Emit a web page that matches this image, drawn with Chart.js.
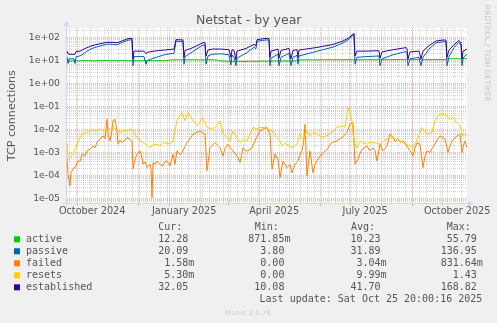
<!DOCTYPE html>
<html><head><meta charset="utf-8">
<script src="https://cdn.jsdelivr.net/npm/chart.js@4/dist/chart.umd.min.js"></script>
<style>html,body{margin:0;padding:0;background:#F0F0F0;}canvas{display:block;}</style>
</head><body>
<canvas id="c" width="497" height="323"></canvas>
<script>
// ---- data (x = days since Sep 20 2024 20:00, y = connections) ----
const seriesNames = ['active', 'passive', 'failed', 'resets', 'established'];
const seriesColors = ['#00CC00', '#0066B3', '#FF8000', '#FFCC00', '#330099'];
const curValues = ['12.28', '20.09', '1.58m', '5.30m', '32.05'];
const minValues = ['871.85m', '3.80', '0.00', '0.00', '10.08'];
const avgValues = ['10.23', '31.89', '3.04m', '9.99m', '41.70'];
const maxValues = ['55.79', '136.95', '831.64m', '1.43', '168.82'];
const monthLabels = ['October 2024', 'January 2025', 'April 2025', 'July 2025', 'October 2025'];
const monthLabelDates = ['2024-10-16', '2025-01-16', '2025-04-16', '2025-07-16', '2025-10-16'];
const yTickValues = [1e-5, 1e-4, 1e-3, 1e-2, 1e-1, 1e0, 1e1, 1e2];
const yTickLabels = ['1e-05', '1e-04', '1e-03', '1e-02', '1e-01', '1e+00', '1e+01', '1e+02'];

const active = [[0,9.8],[4,9.6],[8,9.9],[12,9.7],[16,10.1],[20,9.9],[24,10.0],[28,9.8],[32,10.0],[36,9.9],[40,10.2],[44,9.9],[48,10.0],[52,9.8],[56,10.1],[60,9.9],[64,10.0],[68,9.8],[72,9.9],[76,10.0],[80,9.9],[84,10.0],[88,9.9],[92,10.0],[96,9.9],[100,10.0],[103,10.8],[110,10.9],[118,10.8],[126,10.9],[134,10.8],[142,10.9],[149,10.7],[152,9.8],[158,9.6],[164,9.3],[170,9.5],[176,9.2],[182,9.5],[188,9.4],[194,9.6],[200,9.5],[206,9.7],[212,9.6],[218,9.7],[224,9.6],[230,9.8],[233,10.8],[240,10.9],[250,10.8],[260,11.0],[270,10.9],[280,11.0],[290,10.9],[300,11.0],[310,10.9],[320,11.0],[330,11.1],[340,11.0],[350,11.1],[360,11.0],[370,11.1],[378,11.0],[380,12.1],[388,12.2],[395,12.1],[400,12.3]];

const passive = [[0,15],[1,7.5],[2,12],[7,12],[8,7.5],[9,15],[13,16],[15,18],[20,26],[25,34],[30,40],[35,46],[40,52],[45,52],[50,49],[55,61],[60,76],[64,82],[65,80],[66,6],[67,15],[77,15],[79,7],[80,10],[87,13],[97,18],[107,21],[109,70],[116,68],[117,7],[118,15],[124,22],[130,33],[137,50],[138,48],[139,7],[141,16],[145,19],[154,20],[162,18],[164,6.5],[165,17],[167,15],[169,6],[170,13],[179,21],[187,38],[189,33],[190,70],[199,80],[202,78],[203,6],[204,13],[211,19],[212,6],[214,14],[222,21],[224,6],[226,14],[230,17],[231,7],[232,16],[249,25],[266,39],[272,50],[276,59],[281,80],[284,105],[286,125],[287,137],[288,7],[290,14],[299,15],[312,16],[313,6],[315,12],[326,18],[339,25],[340,22],[341,6],[343,12],[352,14],[354,6],[356,14],[362,32],[369,60],[376,66],[379,66],[380,6],[382,15],[387,37],[392,63],[394,47],[395,6],[396,13],[400,20]];

const failed = [[0,0.0006],[1,0.00011],[3,0.000035],[4,0.00013],[6,0.0002],[8,0.00022],[11,0.00043],[13,0.0004],[15,0.00084],[18,0.0007],[20,0.00118],[23,0.00138],[26,0.0019],[28,0.0016],[30,0.0028],[33,0.0038],[36,0.0053],[38,0.004],[40,0.028],[41,0.006],[43,0.0032],[45,0.009],[46,0.024],[48,0.028],[50,0.008],[51,0.0023],[53,0.0035],[55,0.0027],[58,0.0035],[60,0.0045],[63,0.0038],[65,0.003],[66,0.00019],[68,0.0005],[70,0.00084],[73,0.00118],[75,0.0006],[76,0.00031],[78,0.0004],[80,0.00022],[83,0.00031],[84,0.0002],[85,0.0000107],[86,0.00036],[88,0.0003],[90,0.00043],[93,0.0003],[96,0.00026],[98,0.0004],[100,0.00043],[103,0.00026],[106,0.00084],[108,0.00031],[110,0.00118],[113,0.0008],[115,0.001],[118,0.0018],[120,0.0027],[123,0.004],[126,0.0063],[130,0.0075],[133,0.0087],[136,0.007],[138,0.0063],[140,0.00016],[143,0.0016],[146,0.0022],[148,0.0027],[151,0.002],[153,0.0016],[156,0.00071],[158,0.0015],[161,0.0023],[163,0.0016],[166,0.00118],[169,0.0008],[171,0.0006],[173,0.00036],[176,0.0016],[178,0.0012],[181,0.00118],[185,0.0016],[189,0.004],[193,0.0087],[197,0.011],[200,0.0123],[203,0.0063],[205,0.00019],[208,0.00084],[211,0.0005],[213,0.000081],[216,0.00043],[218,0.0003],[220,0.00022],[223,0.0003],[225,0.00013],[228,0.00031],[231,0.00043],[233,0.0008],[235,0.00118],[237,0.004],[238,0.017],[240,0.000095],[243,0.00118],[246,0.00013],[248,0.0003],[250,0.00043],[253,0.00071],[256,0.0009],[258,0.00118],[261,0.0015],[263,0.0023],[266,0.0028],[270,0.0032],[273,0.004],[275,0.0045],[278,0.006],[280,0.0074],[283,0.017],[286,0.020],[288,0.00031],[291,0.0005],[293,0.0009],[295,0.00138],[298,0.0017],[300,0.0019],[303,0.00118],[306,0.0016],[308,0.0012],[310,0.00043],[313,0.0023],[316,0.00118],[318,0.0015],[320,0.0019],[323,0.0063],[326,0.0045],[328,0.003],[331,0.0038],[333,0.0028],[336,0.0032],[338,0.0025],[341,0.0016],[343,0.0012],[346,0.00071],[348,0.0015],[350,0.0027],[353,0.0023],[356,0.00022],[358,0.0007],[360,0.00118],[363,0.001],[365,0.0015],[368,0.0023],[370,0.0035],[373,0.0053],[376,0.0045],[378,0.0038],[381,0.001],[383,0.002],[385,0.0032],[388,0.0042],[390,0.0053],[393,0.0063],[395,0.001],[397,0.0025],[398,0.0032],[400,0.0016]];

const resets = [[0,0.0027],[1,0.0008],[3,0.0006],[6,0.00084],[10,0.0023],[15,0.0063],[20,0.0074],[25,0.0103],[29,0.0087],[33,0.0103],[37,0.0093],[40,0.0087],[43,0.011],[46,0.013],[50,0.0095],[53,0.0074],[57,0.0093],[60,0.0087],[63,0.0103],[66,0.0093],[70,0.0045],[73,0.0035],[76,0.0027],[80,0.0021],[83,0.0016],[86,0.0021],[90,0.0023],[93,0.0019],[96,0.0027],[100,0.0025],[103,0.0023],[106,0.0032],[110,0.024],[113,0.04],[115,0.055],[118,0.024],[121,0.055],[124,0.035],[126,0.024],[129,0.018],[131,0.0145],[135,0.033],[138,0.02],[140,0.013],[143,0.011],[146,0.0103],[150,0.015],[153,0.024],[156,0.0063],[160,0.0045],[163,0.0032],[166,0.0087],[169,0.005],[173,0.0027],[176,0.0035],[180,0.0032],[183,0.006],[186,0.0123],[190,0.0105],[193,0.0123],[196,0.0123],[200,0.011],[205,0.0087],[208,0.006],[210,0.0045],[213,0.003],[215,0.0019],[218,0.0025],[220,0.0023],[223,0.0019],[225,0.0016],[228,0.002],[230,0.0023],[233,0.0063],[236,0.0038],[240,0.0087],[243,0.0053],[246,0.0074],[250,0.0063],[253,0.0052],[256,0.0045],[260,0.0055],[263,0.0063],[266,0.0085],[270,0.0123],[275,0.0145],[278,0.0123],[281,0.091],[283,0.055],[285,0.024],[286,0.0063],[288,0.0025],[290,0.0016],[293,0.0032],[296,0.0026],[300,0.0023],[303,0.0028],[306,0.0027],[310,0.0025],[313,0.0023],[316,0.003],[320,0.0038],[323,0.0042],[326,0.0045],[330,0.0038],[333,0.0032],[336,0.0027],[340,0.0023],[343,0.0019],[346,0.0016],[349,0.003],[351,0.0045],[355,0.0123],[358,0.008],[360,0.0063],[363,0.0068],[365,0.0074],[368,0.024],[371,0.038],[373,0.047],[376,0.045],[378,0.047],[381,0.035],[383,0.028],[386,0.033],[390,0.020],[393,0.0145],[396,0.0053],[398,0.0065],[400,0.0053]];

const established = [[0,26],[1,20],[2,19],[8,19],[9,25],[13,26],[15,29],[20,37],[25,45],[30,51],[35,57],[40,63],[45,63],[50,60],[55,72],[60,88],[64,94],[65,92],[66,12],[67,26],[77,26],[79,20],[80,23],[87,26],[97,29],[107,32],[109,82],[116,80],[117,14],[118,28],[124,34],[130,45],[137,63],[138,60],[139,16],[141,29],[145,32],[154,32],[162,30],[164,14],[165,30],[167,28],[169,11],[170,26],[179,34],[187,51],[189,45],[190,82],[199,94],[202,92],[203,14],[204,26],[211,32],[212,13],[214,28],[222,34],[224,12],[226,28],[230,30],[231,14],[232,29],[249,37],[266,51],[272,63],[276,72],[281,94],[284,120],[286,140],[287,155],[288,16],[290,26],[299,26],[312,27],[313,13],[315,24],[326,30],[339,37],[340,34],[341,12],[343,24],[352,26],[354,12],[356,26],[362,45],[369,72],[376,79],[379,79],[380,14],[382,29],[387,50],[392,76],[394,60],[395,12],[396,26],[400,32]];

const seriesData = [active, passive, failed, resets, established];

// ---- time helpers (grid positions from the calendar) ----
const START = Date.UTC(2024, 8, 20, 20, 0, 16);
const DAY = 86400000;
const toDay = (d) => (d - START) / DAY;
const monthStarts = [];
for (let m = 9; m <= 21; m++) monthStarts.push(toDay(Date.UTC(2024, m, 1)));
const weekStarts = [];
for (let t = Date.UTC(2024, 8, 23); t < START + 400 * DAY; t += 7 * DAY) weekStarts.push(toDay(t));
const labelDays = monthLabelDates.map(s => toDay(Date.parse(s + 'T00:00:00Z')));

const MAJOR = 'rgba(220,120,120,0.5)';
const MINOR = 'rgba(150,150,150,0.42)';
const FONT = '#555555';
const near = (a, b) => Math.abs(a - b) < 1e-6;
const isMonth = v => monthStarts.some(m => near(m, v));
const isWeek = v => weekStarts.some(w => near(w, v));
const isDecade = v => Math.abs(Math.log10(v) - Math.round(Math.log10(v))) < 1e-6;

const datasets = seriesNames.map((n, i) => ({
  label: n,
  data: seriesData[i].map(p => ({x: p[0], y: p[1]})),
  borderColor: seriesColors[i],
  backgroundColor: seriesColors[i],
  borderWidth: 1,
  pointRadius: 0,
  tension: 0,
  fill: false,
  order: 5 - i
}));

const decor = {
  id: 'decor',
  beforeDraw(chart) {
    const {ctx, chartArea: a} = chart;
    ctx.save();
    ctx.fillStyle = '#F0F0F0';
    ctx.fillRect(0, 0, chart.width, chart.height);
    ctx.fillStyle = '#FFFFFF';
    ctx.fillRect(a.left, a.top, a.right - a.left, a.bottom - a.top);
    ctx.restore();
  },
  afterDraw(chart) {
    const {ctx, chartArea: a} = chart;
    ctx.save();
    // axes + arrows
    ctx.strokeStyle = '#CFD6F8';
    ctx.fillStyle = '#CFD6F8';
    ctx.lineWidth = 1;
    ctx.beginPath();
    ctx.moveTo(a.left - 4, a.bottom + 0.5); ctx.lineTo(a.right + 2, a.bottom + 0.5);
    ctx.moveTo(a.left - 0.5, a.bottom + 4); ctx.lineTo(a.left - 0.5, a.top - 2);
    ctx.stroke();
    ctx.beginPath();
    ctx.moveTo(a.right + 1, a.bottom - 2.5); ctx.lineTo(a.right + 6.5, a.bottom + 0.5); ctx.lineTo(a.right + 1, a.bottom + 3.5); ctx.closePath();
    ctx.fill();
    ctx.beginPath();
    ctx.moveTo(a.left - 3.5, a.top - 2); ctx.lineTo(a.left - 0.5, a.top - 7.5); ctx.lineTo(a.left + 2.5, a.top - 2); ctx.closePath();
    ctx.fill();

    // title
    ctx.fillStyle = FONT;
    ctx.font = '12.5px "DejaVu Sans"';
    ctx.textAlign = 'center';
    ctx.textBaseline = 'alphabetic';
    ctx.fillText('Netstat - by year', 248.7, 24);

    // y title
    ctx.save();
    ctx.translate(15.3, (a.top + a.bottom) / 2);
    ctx.rotate(-Math.PI / 2);
    ctx.font = '11.1px "DejaVu Sans"';
    ctx.textAlign = 'center';
    ctx.fillText('TCP connections', 0, 0);
    ctx.restore();

    // rrdtool credit
    ctx.save();
    ctx.translate(485, 5);
    ctx.rotate(Math.PI / 2);
    ctx.font = '7.5px "DejaVu Sans"';
    ctx.fillStyle = '#C8C8C8';
    ctx.textAlign = 'left';
    ctx.fillText('RRDTOOL / TOBI OETIKER', 0, 0);
    ctx.restore();

    // munin version
    ctx.font = '7px "DejaVu Sans"';
    ctx.fillStyle = '#D0D0D0';
    ctx.textAlign = 'center';
    ctx.fillText('Munin 2.0.76', 248, 315);

    // legend
    ctx.font = '10px "DejaVu Sans Mono"';
    ctx.fillStyle = FONT;
    ctx.textBaseline = 'middle';
    const rowY0 = 227.3, rowH = 12;
    const headX = [158.3, 254.7, 351, 446.7];
    const colEnd = [188.3, 284.4, 380.6, 476.8];
    ['Cur:', 'Min:', 'Avg:', 'Max:'].forEach((h, i) => { ctx.textAlign = 'left'; ctx.fillText(h, headX[i], rowY0); });
    const cols = [curValues, minValues, avgValues, maxValues];
    seriesNames.forEach((n, r) => {
      const y = rowY0 + rowH * (r + 1);
      ctx.fillStyle = seriesColors[r];
      ctx.fillRect(14, y - 3, 6, 6);
      ctx.fillStyle = FONT;
      ctx.textAlign = 'left';
      ctx.fillText(n, 26, y);
      cols.forEach((col, c) => {
        const s = col[r];
        const unit = s.endsWith('m') ? 'm' : '';
        const num = unit ? s.slice(0, -1) : s;
        ctx.textAlign = 'right';
        ctx.fillText(num, colEnd[c], y);
        if (unit) { ctx.textAlign = 'left'; ctx.fillText(unit, colEnd[c], y); }
      });
    });
    ctx.textAlign = 'right';
    ctx.fillText('Last update: Sat Oct 25 20:00:16 2025', 482.3, rowY0 + rowH * 6);
    ctx.restore();
  }
};

new Chart(document.getElementById('c'), {
  type: 'line',
  data: {datasets},
  plugins: [decor],
  options: {
    responsive: false,
    animation: false,
    devicePixelRatio: 1,
    layout: {padding: {left: 0, right: 30, top: 28.3, bottom: 100}},
    plugins: {legend: {display: false}, tooltip: {enabled: false}, title: {display: false}},
    scales: {
      x: {
        type: 'linear',
        min: 0, max: 400,
        afterBuildTicks(scale) {
          const vals = [...weekStarts, ...monthStarts, ...labelDays].filter(v => v >= 0 && v <= 400).sort((p, q) => p - q);
          scale.ticks = vals.map(v => ({value: v}));
        },
        afterFit(scale) { scale.height = 20; },
        ticks: {
          autoSkip: false, maxRotation: 0, padding: 0,
          color: FONT,
          font: {family: 'DejaVu Sans', size: 9.7},
          callback(v) {
            const i = labelDays.findIndex(d => near(d, v));
            return i >= 0 ? monthLabels[i] : '';
          }
        },
        grid: {
          drawTicks: true, tickLength: 3, lineWidth: 1,
          color: ctx => ctx.tick ? (isMonth(ctx.tick.value) ? MAJOR : (isWeek(ctx.tick.value) ? MINOR : 'rgba(0,0,0,0)')) : 'rgba(0,0,0,0)',
          tickColor: ctx => ctx.tick && isMonth(ctx.tick.value) ? MAJOR : 'rgba(0,0,0,0)'
        },
        border: {display: false, dash: [1, 1]}
      },
      y: {
        type: 'logarithmic',
        min: 6.3e-6, max: 257,
        afterBuildTicks(scale) {
          const t = [];
          for (let k = -6; k <= 2; k++) for (let m = 1; m <= 9; m++) {
            const v = m * Math.pow(10, k);
            if (v >= 6.3e-6 && v <= 257) t.push({value: v});
          }
          scale.ticks = t;
        },
        afterFit(scale) { scale.width = 67; },
        ticks: {
          autoSkip: false, padding: 7,
          color: FONT,
          font: {family: 'DejaVu Sans', size: 9.3},
          callback(v) {
            const i = yTickValues.findIndex(d => Math.abs(d - v) / d < 1e-6);
            return i >= 0 ? yTickLabels[i] : '';
          }
        },
        grid: {
          drawTicks: false, lineWidth: 1,
          color: ctx => ctx.tick && isDecade(ctx.tick.value) ? MAJOR : MINOR
        },
        border: {display: false, dash: [1, 1]}
      }
    }
  }
});
</script>
</body></html>
